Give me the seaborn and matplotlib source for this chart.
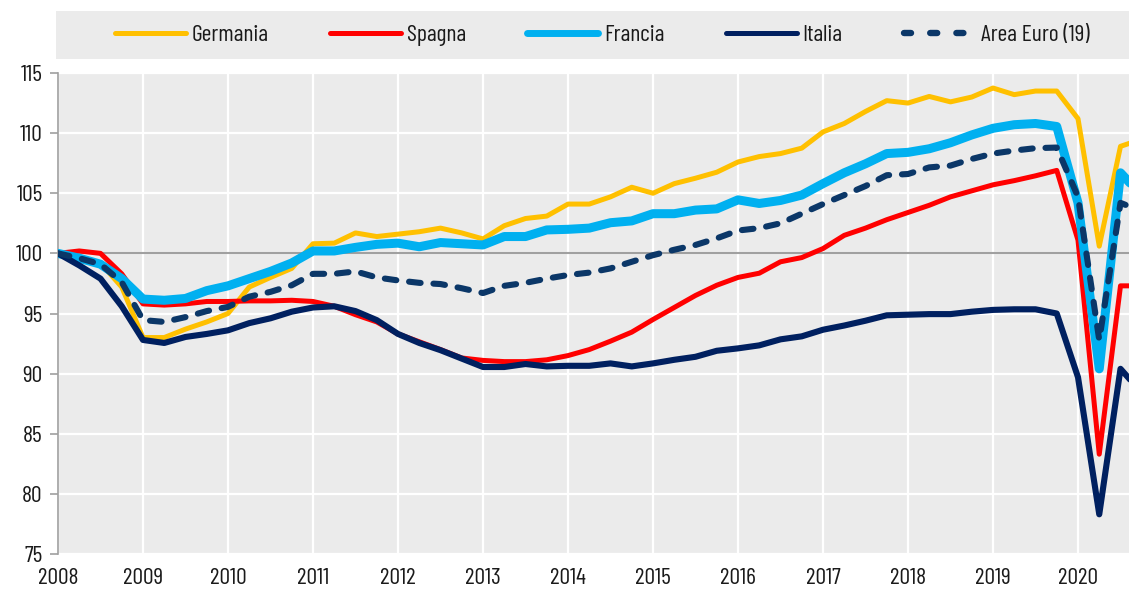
import numpy as np
import pandas as pd
import matplotlib
matplotlib.use("Agg")
import matplotlib.pyplot as plt
import matplotlib.font_manager as fm
from matplotlib.patches import Rectangle
from matplotlib.lines import Line2D
import seaborn as sns

quarters = [2008 + i * 0.25 for i in range(52)]

germania = [100, 99.6, 99.2, 97.2,
            93.0, 93.0, 93.7, 94.3,
            95.0, 97.2, 98.0, 98.75,
            100.8, 100.85, 101.7, 101.4,
            101.6, 101.8, 102.1, 101.7,
            101.2, 102.3, 102.9, 103.1,
            104.1, 104.1, 104.7, 105.5,
            105.0, 105.8, 106.25, 106.75,
            107.6, 108.05, 108.3, 108.75,
            110.1, 110.8, 111.8, 112.7,
            112.5, 113.05, 112.6, 113.0,
            113.75, 113.2, 113.5, 113.5,
            111.2, 100.6, 108.9, 109.5]

spagna = [100, 100.2, 100.0, 98.3,
          95.8, 95.7, 95.8, 96.0,
          96.0, 96.05, 96.05, 96.1,
          96.0, 95.6, 94.9, 94.3,
          93.3, 92.65, 92.0, 91.3,
          91.1, 91.0, 91.0, 91.15,
          91.5, 92.0, 92.7, 93.45,
          94.5, 95.5, 96.5, 97.35,
          98.0, 98.35, 99.3, 99.65,
          100.4, 101.5, 102.1, 102.8,
          103.4, 104.0, 104.7, 105.2,
          105.7, 106.05, 106.45, 106.9,
          101.1, 83.3, 97.3, 97.3]

francia = [100, 99.6, 99.1, 97.9,
           96.2, 96.1, 96.25, 96.9,
           97.3, 97.9, 98.5, 99.2,
           100.2, 100.2, 100.5, 100.75,
           100.85, 100.55, 100.9, 100.8,
           100.7, 101.4, 101.4, 101.95,
           102.0, 102.1, 102.55, 102.7,
           103.3, 103.3, 103.6, 103.7,
           104.45, 104.15, 104.4, 104.85,
           105.8, 106.7, 107.45, 108.3,
           108.4, 108.7, 109.2, 109.85,
           110.4, 110.7, 110.8, 110.55,
           104.2, 90.4, 106.7, 104.8]

italia = [100, 99.0, 97.9, 95.6,
          92.8, 92.55, 93.05, 93.3,
          93.6, 94.2, 94.6, 95.15,
          95.5, 95.6, 95.2, 94.45,
          93.3, 92.55, 91.95, 91.25,
          90.55, 90.55, 90.8, 90.6,
          90.65, 90.65, 90.85, 90.6,
          90.85, 91.15, 91.4, 91.9,
          92.1, 92.35, 92.85, 93.1,
          93.65, 94.0, 94.4, 94.85,
          94.9, 94.95, 94.95, 95.15,
          95.3, 95.35, 95.35, 95.0,
          89.7, 78.3, 90.4, 88.4]

area_euro = [100, 99.6, 99.1, 97.6,
             94.45, 94.3, 94.7, 95.2,
             95.55, 96.4, 96.8, 97.35,
             98.3, 98.3, 98.5, 98.0,
             97.75, 97.55, 97.45, 97.1,
             96.7, 97.3, 97.55, 97.9,
             98.2, 98.4, 98.75, 99.3,
             99.85, 100.3, 100.7, 101.25,
             101.9, 102.1, 102.5, 103.3,
             104.1, 104.85, 105.6, 106.5,
             106.6, 107.15, 107.3, 107.85,
             108.3, 108.55, 108.75, 108.8,
             104.7, 92.8, 104.2, 103.5]

series_names = ["Germania", "Spagna", "Francia", "Italia", "Area Euro (19)"]
year_ticks = list(range(2008, 2021))
y_ticks = [75, 80, 85, 90, 95, 100, 105, 110, 115]

sns.set_theme(style="darkgrid")
installed = {f.name for f in fm.fontManager.ttflist}
fam = [f for f in ["Barlow Condensed", "Archivo Narrow"] if f in installed]
fam.append("DejaVu Sans")
plt.rcParams["font.family"] = fam

colors = {"Germania": "#FFC000", "Spagna": "#FF0000", "Francia": "#00B0F0",
          "Italia": "#002060", "Area Euro (19)": "#0B3768"}
widths = {"Germania": 3.6, "Spagna": 3.6, "Francia": 6.5, "Italia": 4.4, "Area Euro (19)": 4.4}

df = pd.DataFrame({"x": quarters, "Germania": germania, "Spagna": spagna,
                   "Francia": francia, "Italia": italia, "Area Euro (19)": area_euro})

W, H = 1129, 592
fig = plt.figure(figsize=(W / 100, H / 100), dpi=100)
ax = fig.add_axes([58 / W, 1 - 554 / H, 1 - 58 / W, (554 - 73) / H])
ax.set_facecolor("#EBEBEB")

for name in series_names:
    sns.lineplot(data=df, x="x", y=name, ax=ax, color=colors[name], lw=widths[name], zorder=3)
    ln = ax.lines[-1]
    ln.set_solid_joinstyle("round")
    ln.set_solid_capstyle("round")
    if name == "Area Euro (19)":
        ln.set_dashes((1.9, 2.1))
        ln.set_dash_capstyle("round")
        ln.set_dash_joinstyle("round")

ax.axhline(100, color="#A0A0A0", lw=1.5, zorder=2)
ax.set_xlim(2008, 2020.6)
ax.set_ylim(75, 115)
ax.set_xticks(year_ticks)
ax.set_xticklabels([str(y) for y in year_ticks])
ax.set_yticks(y_ticks)
ax.grid(True, color="white", lw=1.6)
ax.set_xlabel("")
ax.set_ylabel("")
for s in ["top", "right", "bottom"]:
    ax.spines[s].set_visible(False)
ax.spines["left"].set_visible(True)
ax.spines["left"].set_color("#A0A0A0")
ax.spines["left"].set_linewidth(1.2)
ax.tick_params(axis="y", left=True, length=6, width=1.2, color="#A0A0A0", pad=5,
               labelsize=17, labelcolor="#1a1a1a")
ax.tick_params(axis="x", bottom=False, length=0, pad=10, labelsize=17, labelcolor="#1a1a1a")

fig.patches.append(Rectangle((56 / W, 1 - 59 / H), 1 - 56 / W, 48 / H,
                             transform=fig.transFigure, facecolor="#EBEBEB",
                             edgecolor="none", zorder=0))
handles = []
for name in series_names:
    if name == "Area Euro (19)":
        h = Line2D([], [], color=colors[name], lw=4.6, dashes=(1.1, 3.0), dash_capstyle="round")
    else:
        h = Line2D([], [], color=colors[name], lw=3.6 if name != "Francia" else 5.0,
                   solid_capstyle="round")
    handles.append(h)
fig.legend(handles, series_names, loc="center", bbox_to_anchor=(602 / W, 1 - 35 / H),
           ncol=5, frameon=False, fontsize=17, handlelength=3.0, handletextpad=0.25,
           columnspacing=2.6, labelcolor="#1a1a1a")

fig.savefig("out.png", dpi=100)
